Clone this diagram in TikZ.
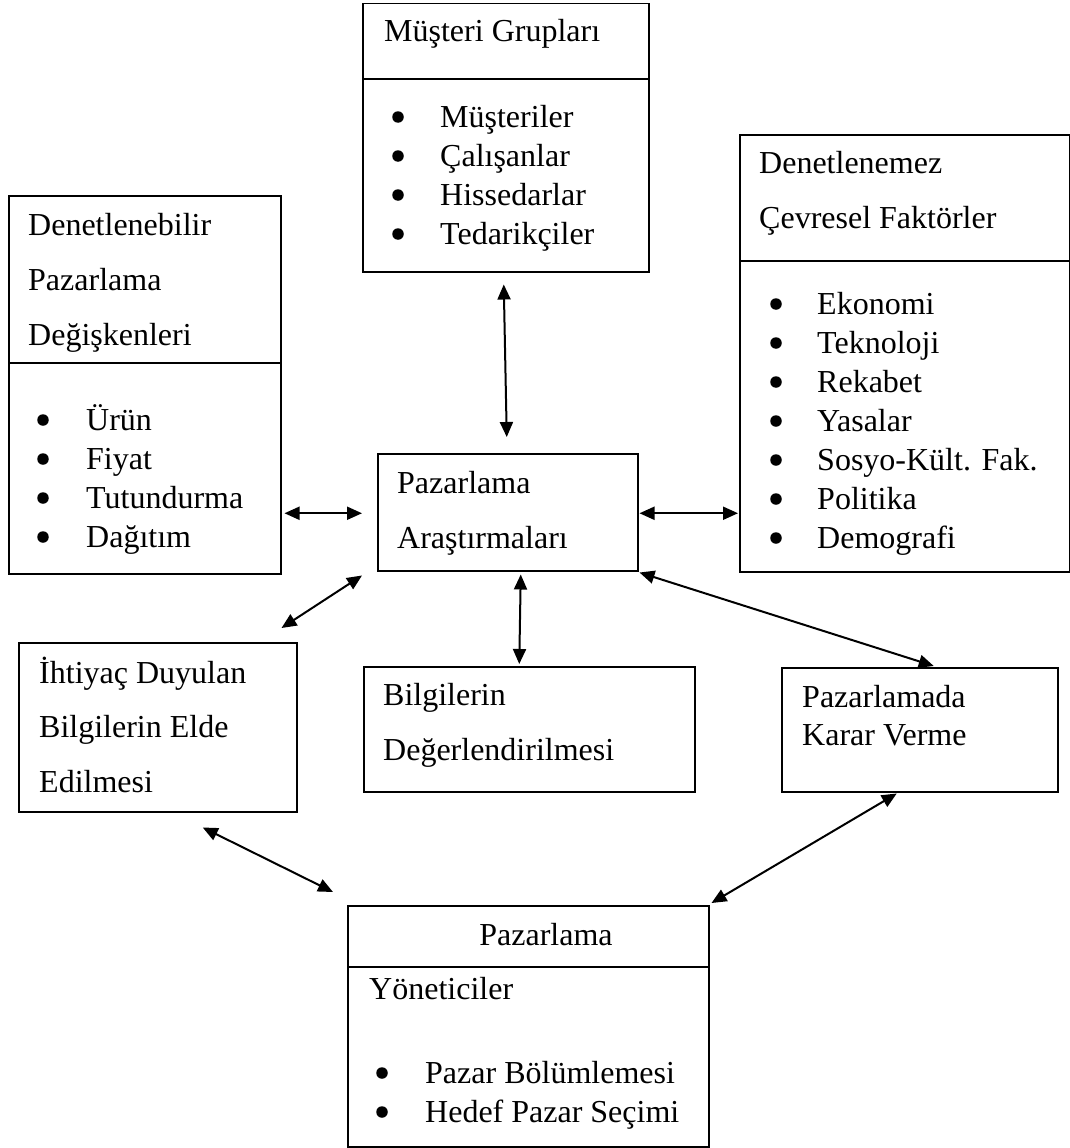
\documentclass[tikz,border=0pt]{standalone}
\usepackage{fontspec}
\setmainfont{Liberation Serif}
\usetikzlibrary{calc,arrows.meta}
\tikzset{
  box/.style={draw, line width=1.5pt, anchor=north west, inner sep=0pt},
  sep/.style={draw, line width=1.5pt},
  link/.style={line width=2pt, {Triangle[length=15pt,width=13pt]}-{Triangle[length=15pt,width=13pt]}},
  txt/.style={anchor=base west, inner sep=0pt},
  head/.style={anchor=base, inner sep=0pt},
  dot/.style={circle, fill, inner sep=0pt, minimum size=11.5pt},
  every node/.style={font=\fontsize{32}{39}\selectfont}
}

\begin{document}
\begin{tikzpicture}[x=1pt,y=-1pt]
  \useasboundingbox (0,0) rectangle (1070,1148);

  % boxes
  \node[box, minimum width=286pt, minimum height=268pt] (mg) at (362,3) {};
  \node[box, minimum width=272pt, minimum height=378pt] (dp) at (8,195) {};
  \node[box, minimum width=330pt, minimum height=437pt] (dc) at (739,134) {};
  \node[box, minimum width=260pt, minimum height=117pt] (ar) at (377,453) {};
  \node[box, minimum width=278pt, minimum height=169pt] (ih) at (18,642) {};
  \node[box, minimum width=331pt, minimum height=125pt] (bd) at (363,666) {};
  \node[box, minimum width=276pt, minimum height=124pt] (kv) at (781,667) {};
  \node[box, minimum width=361pt, minimum height=241pt] (py) at (347,905) {};

  \draw[sep] ($(mg.north west)+(0,76)$) -- ($(mg.north east)+(0,76)$);
  \draw[sep] ($(dp.north west)+(0,168)$) -- ($(dp.north east)+(0,168)$);
  \draw[sep] ($(dc.north west)+(0,127)$) -- ($(dc.north east)+(0,127)$);
  \draw[sep] ($(py.north west)+(0,62)$) -- ($(py.north east)+(0,62)$);

  % Müşteri Grupları
  \node[txt] (mgh) at (384,42) {Müşteri Grupları};
  \foreach \w [count=\i from 0] in {Müşteriler,Çalışanlar,Hissedarlar,Tedarikçiler}{
    \node[dot] (mgb\i) at (398,{117+39*\i}) {};
    \node[txt] (mgt\i) at (440,{127+39*\i}) {\w};
  }

  % Denetlenebilir
  \node[txt] (dph1) at (28,235) {Denetlenebilir};
  \node[txt] (dph2) at (28,290) {Pazarlama};
  \node[txt] (dph3) at (28,345) {Değişkenleri};
  \foreach \w [count=\i from 0] in {Ürün,Fiyat,Tutundurma,Dağıtım}{
    \node[dot] (dpb\i) at (43,{420+39*\i}) {};
    \node[txt] (dpt\i) at (86,{430+39*\i}) {\w};
  }

  % Denetlenemez
  \node[txt] (dch1) at (759,173) {Denetlenemez};
  \node[txt] (dch2) at (759,228) {Çevresel Faktörler};
  \foreach \w [count=\i from 0] in {Ekonomi,Teknoloji,Rekabet,Yasalar,Sosyo-Kült. Fak.,Politika,Demografi}{
    \node[dot] (dcb\i) at (776,{304+39*\i}) {};
    \node[txt] (dct\i) at (817,{314+39*\i}) {\w};
  }

  % middle row
  \node[txt] (ar1) at (397,493) {Pazarlama};
  \node[txt] (ar2) at (397,548) {Araştırmaları};

  \node[txt] (ih1) at (39,683) {İhtiyaç Duyulan};
  \node[txt] (ih2) at (39,737) {Bilgilerin Elde};
  \node[txt] (ih3) at (39,792) {Edilmesi};

  \node[txt] (bd1) at (383,705) {Bilgilerin};
  \node[txt] (bd2) at (383,760) {Değerlendirilmesi};

  \node[txt] (kv1) at (802,707) {Pazarlamada};
  \node[txt] (kv2) at (802,745) {Karar Verme};

  % Yöneticiler
  \node[head] (pyh) at (546,945) {Pazarlama};
  \node[txt] (pyy) at (369,999) {Yöneticiler};
  \foreach \w [count=\i from 0] in {Pazar Bölümlemesi,Hedef Pazar Seçimi}{
    \node[dot] (pyb\i) at (382,{1073+39*\i}) {};
    \node[txt] (pyt\i) at (425,{1083+39*\i}) {\w};
  }

  % connectors
  \draw[link] ($(mg.south)+(-2,12)$) -- ($(ar.north)+(-1,-16)$);
  \draw[link] ($(ar.west -| dp.east)+(3,1)$) -- ($(ar.west)+(-15,1)$);
  \draw[link] ($(ar.east)+(1,1)$) -- ($(ar.east -| dc.west)+(-1,1)$);
  \draw[link] ($(ih.north east)+(-16,-14)$) -- ($(ar.south west)+(-15,4)$);
  \draw[link] ($(ar.south)+(13,3)$) -- ($(bd.north)+(-10,-2)$);
  \draw[link] ($(ar.south east)+(1,1)$) -- ($(kv.north)+(14,-1)$);
  \draw[link] ($(kv.south)+(-23,1)$) -- ($(py.north east)+(2,-2)$);
  \draw[link] ($(ih.south)+(45,15)$) -- ($(py.north west)+(-14,-13)$);
\end{tikzpicture}
\end{document}
